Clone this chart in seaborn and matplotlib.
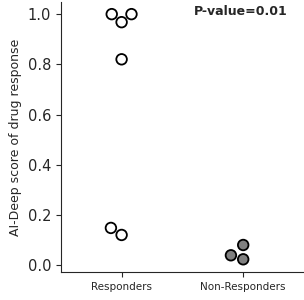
import matplotlib
matplotlib.use("Agg")
import matplotlib.pyplot as plt
import seaborn as sns
import pandas as pd

# values
responders = [1.0, 0.968, 1.0, 0.82, 0.12, 0.148]
non_responders = [0.08, 0.039, 0.023]
categories = ["Responders", "Non-Responders"]
p_text = "P-value=0.01"

df = pd.DataFrame({
    "group": ["Responders"] * len(responders) + ["Non-Responders"] * len(non_responders),
    "score": responders + non_responders,
})

sns.set_style("ticks")
plt.rcParams['font.family'] = ['DejaVu Sans']

fig = plt.figure(figsize=(3.04, 3.0), dpi=100)
ax = fig.add_axes([0.2, 0.093, 0.8, 0.9])

sns.swarmplot(data=df, x="group", y="score", hue="group", order=categories,
              palette={"Responders": "white", "Non-Responders": "gray"},
              size=7.6, edgecolor="black", linewidth=1.3, legend=False, ax=ax)

ax.set_xlim(-0.5, 1.5)
ax.set_ylim(-0.028, 1.048)
ax.set_yticks([0.0, 0.2, 0.4, 0.6, 0.8, 1.0])
ax.set_xlabel("")
ax.set_ylabel("AI-Deep score of drug response", fontsize=9, labelpad=4)
ax.tick_params(axis='y', labelsize=10.5)
ax.tick_params(axis='x', labelsize=7.5)
ax.text(0.74, 0.99, p_text, transform=ax.transAxes, ha="center", va="top",
        fontsize=9, fontweight="bold")
sns.despine(ax=ax)

fig.savefig("out.png", dpi=100)
